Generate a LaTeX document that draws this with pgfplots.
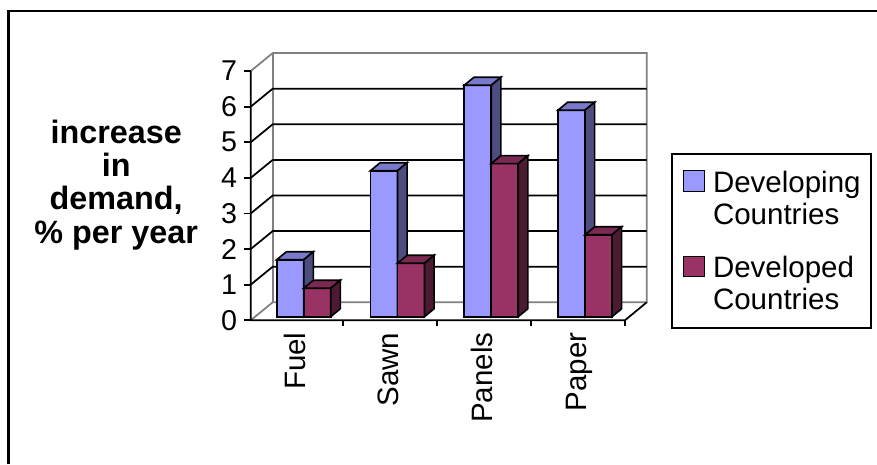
\documentclass[border=0pt]{standalone}
\usepackage{pgfplots}
\usepackage{pgfplotstable}
\pgfplotsset{compat=1.18}
\usepackage{fontspec}
\setmainfont{Liberation Sans}

\definecolor{devfront}{HTML}{9999FF}
\definecolor{devtop}{HTML}{7A7ACC}
\definecolor{devside}{HTML}{4D4D80}
\definecolor{dvdfront}{HTML}{993366}
\definecolor{dvdtop}{HTML}{7A2952}
\definecolor{dvdside}{HTML}{4D1A33}
\definecolor{wallgray}{HTML}{808080}

% annual increase in demand, % per year
\pgfplotstableread{
idx dev dvd
0 1.6 0.8
1 4.1 1.5
2 6.5 4.3
3 5.8 2.3
}\demand

% bar width and the oblique depth of every bar (axis units)
\def\bw{0.288}
\def\dpx{0.1035}
\def\dpy{0.225}

\tikzset{face/.style={draw=black, line width=1pt},
  wall/.style={black, line width=1.05pt}}

% top and side faces of one series, built from the table values
\newcommand\barfaces[4]{%
  \pgfplotsforeachungrouped \i in {0,...,3}{%
    \pgfplotstablegetelem{\i}{#1}\of\demand
    \let\val\pgfplotsretval
    \pgfmathsetmacro\xl{\i+#2-\bw/2}%
    \pgfmathsetmacro\xr{\i+#2+\bw/2}%
    \pgfmathsetmacro\xlb{\xl+\dpx}%
    \pgfmathsetmacro\xrb{\xr+\dpx}%
    \pgfmathsetmacro\yt{\val+\dpy}%
    \edef\faces{%
      \noexpand\addplot[face, fill=#3, forget plot] coordinates {(\xl,\val) (\xr,\val) (\xrb,\yt) (\xlb,\yt)} -- cycle;
      \noexpand\addplot[face, fill=#4, forget plot] coordinates {(\xr,0) (\xrb,\dpy) (\xrb,\yt) (\xr,\val)} -- cycle;
    }%
    \faces
  }%
}

\begin{document}
\begin{tikzpicture}
\useasboundingbox (0,0) rectangle (526.2pt,278.4pt);
\draw[line width=1.5pt] (5.1pt,0) -- (5.1pt,271.8pt) -- (526.2pt,271.8pt);
\begin{axis}[
  anchor=origin, at={(182.22pt,88.38pt)},
  x=56.25pt, y=21.36pt,
  xmin=-0.565, xmax=3.659, ymin=-0.10, ymax=7.404,
  axis lines=left, axis line style={draw=none},
  major tick length=0pt,
  clip=false,
  ytick={0,...,7},
  /pgf/number format/assume math mode=true,
  yticklabel style={font=\fontsize{17.2}{18}\selectfont, inner sep=0pt,
    anchor=east, xshift=-8pt, yshift=-2.14pt},
  xtick={0,1,2,3},
  xticklabels={Fuel,Sawn,Panels,Paper},
  xticklabel style={font=\fontsize{17.7}{19}\selectfont, inner sep=0pt,
    xshift=0.9pt, yshift=-7.2pt, rotate=90, anchor=base east},
  ylabel={increase\\in\\demand,\\\% per year},
  every axis y label/.style={at={(axis cs:-2.0,3.708)}, anchor=center,
    align=center, font=\bfseries\fontsize{19.4}{20}\selectfont},
  legend style={at={(axis cs:3.918,4.598)}, anchor=north west,
    draw=black, line width=1.2pt, fill=white,
    inner xsep=6.5pt, inner ysep=9.5pt, row sep=17.2pt,
    font=\fontsize{17.7}{19.2}\selectfont,
    cells={anchor=north west, align=left},
    nodes={inner sep=0pt},
    /tikz/every odd column/.append style={column sep=5pt}},
]
% back wall and left wall edges
\draw[wall, wallgray] (axis cs:-0.565,-0.10) -- (axis cs:-0.331,0.404) -- (axis cs:3.659,0.404) -- (axis cs:3.659,7.404) -- (axis cs:-0.331,7.404) -- (axis cs:-0.565,6.90);
\draw[wall, wallgray] (axis cs:-0.331,0.404) -- (axis cs:-0.331,7.404);
% gridlines across the left wall and the back wall
\draw[wall] (axis cs:-0.565,0.90) -- (axis cs:-0.331,1.404) -- (axis cs:3.659,1.404);
\draw[wall] (axis cs:-0.565,1.90) -- (axis cs:-0.331,2.404) -- (axis cs:3.659,2.404);
\draw[wall] (axis cs:-0.565,2.90) -- (axis cs:-0.331,3.404) -- (axis cs:3.659,3.404);
\draw[wall] (axis cs:-0.565,3.90) -- (axis cs:-0.331,4.404) -- (axis cs:3.659,4.404);
\draw[wall] (axis cs:-0.565,4.90) -- (axis cs:-0.331,5.404) -- (axis cs:3.659,5.404);
\draw[wall] (axis cs:-0.565,5.90) -- (axis cs:-0.331,6.404) -- (axis cs:3.659,6.404);
% front value axis and front floor edge
\draw[wall] (axis cs:-0.565,6.90) -- (axis cs:-0.565,-0.10) -- (axis cs:3.427,-0.10) -- (axis cs:3.659,0.404);
% value ticks
\draw[wall] (axis cs:-0.565,-0.10) -- (axis cs:-0.6397,-0.10);
\draw[wall] (axis cs:-0.565,0.90) -- (axis cs:-0.6397,0.90);
\draw[wall] (axis cs:-0.565,1.90) -- (axis cs:-0.6397,1.90);
\draw[wall] (axis cs:-0.565,2.90) -- (axis cs:-0.6397,2.90);
\draw[wall] (axis cs:-0.565,3.90) -- (axis cs:-0.6397,3.90);
\draw[wall] (axis cs:-0.565,4.90) -- (axis cs:-0.6397,4.90);
\draw[wall] (axis cs:-0.565,5.90) -- (axis cs:-0.6397,5.90);
\draw[wall] (axis cs:-0.565,6.90) -- (axis cs:-0.6397,6.90);
% category separators on the floor edge
\draw[wall] (axis cs:0.416,-0.10) -- (axis cs:0.416,-0.2685);
\draw[wall] (axis cs:1.419,-0.10) -- (axis cs:1.419,-0.2685);
\draw[wall] (axis cs:2.421,-0.10) -- (axis cs:2.421,-0.2685);
\draw[wall] (axis cs:3.427,-0.10) -- (axis cs:3.427,-0.2685);

% Developing Countries
\addplot[ybar, bar width=\bw, bar shift=-0.144, fill=devfront, draw=black, line width=1pt,
  legend image code/.code={\draw[fill=devfront, draw=black, line width=0.7pt] (0pt,-12.9pt) rectangle (12.4pt,-0.5pt);}]
  table[x=idx, y=dev] {\demand};
\addlegendentry{Developing\\Countries}
\barfaces{dev}{-0.144}{devtop}{devside}

% Developed Countries
\addplot[ybar, bar width=\bw, bar shift=0.144, fill=dvdfront, draw=black, line width=1pt,
  legend image code/.code={\draw[fill=dvdfront, draw=black, line width=0.7pt] (0pt,-12.9pt) rectangle (12.4pt,-0.5pt);}]
  table[x=idx, y=dvd] {\demand};
\addlegendentry{Developed\\Countries}
\barfaces{dvd}{0.144}{dvdtop}{dvdside}
\end{axis}
\end{tikzpicture}
\end{document}
